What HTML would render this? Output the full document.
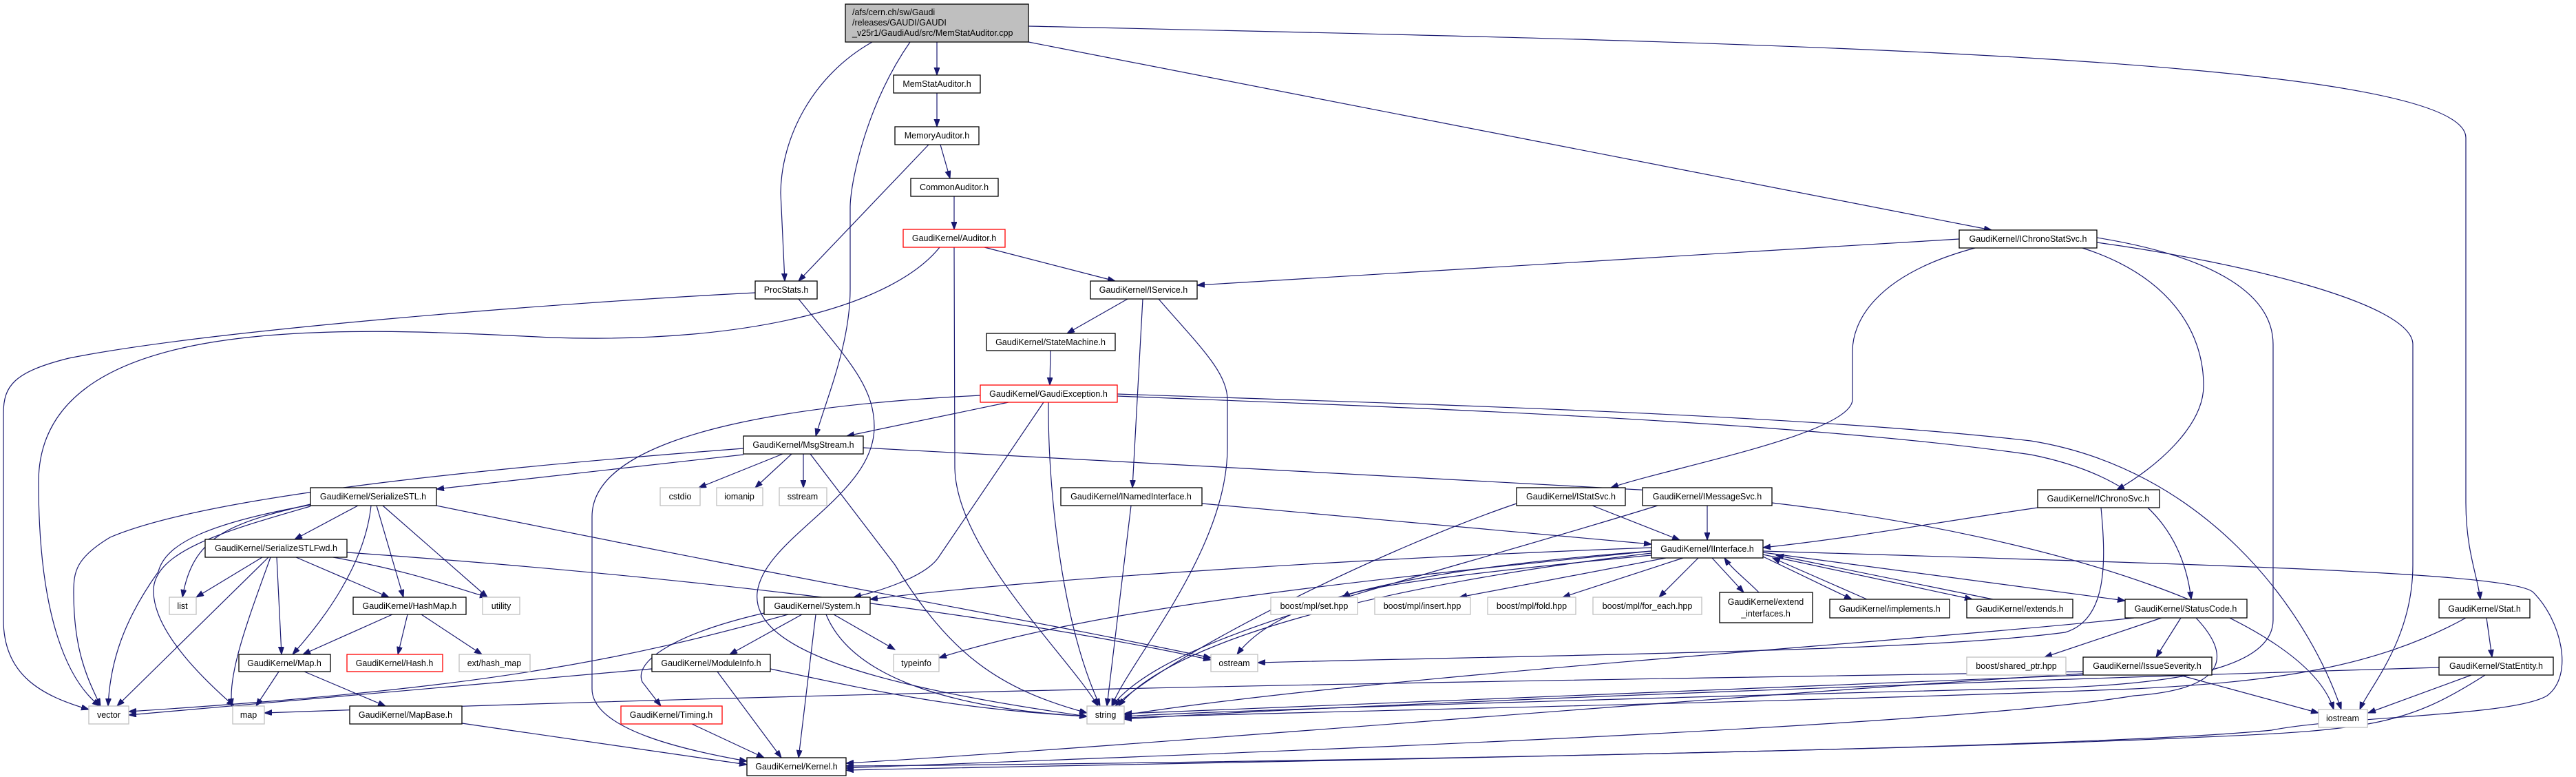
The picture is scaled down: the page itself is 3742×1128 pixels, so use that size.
<!DOCTYPE html>
<html><head><meta charset="utf-8"><style>
html,body{margin:0;padding:0;background:#fff}
svg{display:block}
text{font-family:"Liberation Sans",sans-serif;font-size:12.5px;fill:#000}
.e{fill:none;stroke:#191970;stroke-width:1.2}
.b{fill:#fff;stroke:#000;stroke-width:1.3}
.g{fill:#fff;stroke:#bfbfbf;stroke-width:1.3}
.r{fill:#fff;stroke:#ff0000;stroke-width:1.3}
</style></head><body>
<svg width="3742" height="1128" viewBox="0 0 3742 1128" xmlns="http://www.w3.org/2000/svg">
<defs><marker id="a" markerUnits="userSpaceOnUse" markerWidth="12" markerHeight="9" refX="11" refY="4" orient="auto"><path d="M0,0 L11,4 L0,8 z" fill="#191970" stroke="#191970"/></marker></defs>
<g class="e" marker-end="url(#a)">
<path d="M1361,61 L1361,109"/>
<path d="M1267,61 C1180,110 1135,200 1134,280 L1140,408"/>
<path d="M1322,61 C1260,150 1236,260 1235,300 L1235,420 C1235,500 1200,580 1185,633"/>
<path d="M1494,61 L2893,334"/>
<path d="M1494,38 C2500,60 3582,80 3582,200 L3582,730 C3582,800 3600,840 3603,870"/>
<path d="M1361,135 L1361,184"/>
<path d="M1366,210 L1380,259"/>
<path d="M1349,210 L1160,408"/>
<path d="M1386,285 L1386,333"/>
<path d="M1430,359 L1620,408"/>
<path d="M1365,359 C1300,440 1100,500 800,490 C500,475 56,450 56,700 C56,900 100,990 145,1025"/>
<path d="M1386,359 L1387,680 C1390,800 1550,950 1595,1025"/>
<path d="M1097,425 C800,440 300,480 100,520 C20,540 5,560 5,600 L5,900 C5,980 60,1010 129,1030"/>
<path d="M1160,434 C1230,520 1270,560 1270,620 C1270,720 1110,780 1100,860 C1090,950 1300,1000 1579,1040"/>
<path d="M1638,434 L1550,484"/>
<path d="M1660,434 L1645,708"/>
<path d="M1683,434 C1740,500 1783,540 1783,580 L1783,650 C1783,800 1640,960 1615,1025"/>
<path d="M1526,509 L1525,559"/>
<path d="M1465,584 L1230,633"/>
<path d="M1424,574 C1200,585 860,620 860,750 L860,1000 C860,1060 1000,1090 1085,1105"/>
<path d="M1516,584 L1362,811 C1340,840 1270,860 1240,867"/>
<path d="M1523,584 C1522,700 1540,900 1598,1025"/>
<path d="M1623,575 C2000,590 2600,610 2950,660 C3100,690 3170,760 3183,870"/>
<path d="M1623,572 C2000,585 2600,600 2950,640 C3200,680 3350,880 3401,1030"/>
<path d="M1080,660 L634,710"/>
<path d="M1137,659 L1015,708"/>
<path d="M1150,659 L1097,708"/>
<path d="M1167,659 L1167,708"/>
<path d="M1080,651 C700,680 300,720 160,780 C110,810 107,830 107,860 C107,950 130,990 146,1025"/>
<path d="M1177,659 L1300,820 C1380,950 1450,1000 1579,1035"/>
<path d="M1254,650 L2400,712"/>
<path d="M520,734 L428,783"/>
<path d="M451,732 C330,760 280,780 265,867"/>
<path d="M451,733 C300,760 240,790 230,830 C180,900 160,960 157,1025"/>
<path d="M451,735 C330,770 220,800 223,860 C225,920 300,990 340,1025"/>
<path d="M539,734 C530,820 470,900 425,950"/>
<path d="M547,734 L586,867"/>
<path d="M556,734 L708,867"/>
<path d="M634,734 C1200,850 1500,900 1759,955"/>
<path d="M381,809 L285,867"/>
<path d="M390,809 L170,1025"/>
<path d="M393,809 C360,900 330,980 337,1025"/>
<path d="M402,809 L409,950"/>
<path d="M430,809 L565,867"/>
<path d="M484,809 C600,830 650,850 708,867"/>
<path d="M504,802 C900,830 1400,880 1759,958"/>
<path d="M570,892 L440,950"/>
<path d="M592,892 L578,950"/>
<path d="M612,892 L700,950"/>
<path d="M405,975 L372,1025"/>
<path d="M442,975 L560,1025"/>
<path d="M671,1050 L1085,1110"/>
<path d="M1145,892 C900,960 700,1000 187,1033"/>
<path d="M1165,892 L1060,950"/>
<path d="M1110,890 C980,920 920,960 933,990 L960,1025"/>
<path d="M1211,892 L1300,943"/>
<path d="M1200,892 C1240,990 1400,1030 1579,1040"/>
<path d="M1185,892 L1160,1100"/>
<path d="M947,971 L187,1038"/>
<path d="M1119,971 C1300,1010 1400,1030 1579,1040"/>
<path d="M1042,975 L1135,1100"/>
<path d="M1005,1051 L1110,1100"/>
<path d="M1746,731 L2399,790"/>
<path d="M1643,734 L1608,1025"/>
<path d="M2313,734 L2440,784"/>
<path d="M2203,731 C2000,800 1700,950 1620,1025"/>
<path d="M2480,734 L2480,784"/>
<path d="M2408,734 C2000,860 1700,920 1615,1025"/>
<path d="M2574,730 C3000,780 3350,900 3390,1030"/>
<path d="M2960,737 C2800,760 2700,780 2561,795"/>
<path d="M3052,737 C3060,820 3060,900 3000,918 C2800,945 2300,950 1827,962"/>
<path d="M2846,347 L1739,414"/>
<path d="M2869,360 C2720,400 2691,470 2691,510 L2691,580 C2691,630 2420,680 2340,708"/>
<path d="M3025,360 C3150,400 3201,480 3201,560 C3201,620 3130,680 3075,711"/>
<path d="M3046,345 C3200,370 3302,420 3302,500 L3302,900 C3302,960 3200,990 3000,998 C2500,1010 1800,1030 1633,1040"/>
<path d="M3046,352 C3250,380 3505,440 3505,500 L3505,820 C3505,930 3440,1000 3428,1030"/>
<path d="M2399,795 C2000,810 1500,840 1264,870"/>
<path d="M2399,806 C2150,830 1980,850 1950,867"/>
<path d="M2420,810 L2120,867"/>
<path d="M2445,810 L2270,867"/>
<path d="M2467,810 L2410,867"/>
<path d="M2487,810 L2533,860"/>
<path d="M2555,860 C2535,840 2515,825 2505,810"/>
<path d="M2561,808 L2690,870"/>
<path d="M2712,870 L2575,810"/>
<path d="M2561,805 L2865,870"/>
<path d="M2895,870 L2580,806"/>
<path d="M2561,802 L3087,872"/>
<path d="M2399,800 C2000,840 1600,880 1364,955"/>
<path d="M2399,800 C2000,830 1850,880 1797,950"/>
<path d="M2399,803 C2000,850 1700,930 1625,1025"/>
<path d="M2561,800 C3200,820 3650,830 3680,860 C3720,900 3740,980 3700,1010 C3650,1040 3400,1040 3300,1060 C3000,1090 1600,1110 1229,1112"/>
<path d="M3140,897 L2970,954"/>
<path d="M3168,897 L3132,954"/>
<path d="M3100,897 C2800,930 2000,980 1633,1038"/>
<path d="M3190,897 C3240,950 3240,1000 3100,1010 C2800,1060 1600,1100 1229,1115"/>
<path d="M3026,980 L1633,1036"/>
<path d="M3026,978 C2500,1010 1700,1080 1229,1108"/>
<path d="M3166,980 L3368,1035"/>
<path d="M3026,975 C2500,985 1500,995 384,1035"/>
<path d="M3582,897 C3450,970 3300,990 3100,1000 C2600,1020 1800,1035 1633,1042"/>
<path d="M3612,897 L3620,954"/>
<path d="M3590,980 L3440,1035"/>
<path d="M3543,969 C3000,985 2000,1020 1633,1044"/>
<path d="M3610,980 C3500,1050 3450,1060 3200,1070 C2800,1090 1600,1110 1229,1118"/>
</g>
<!-- nodes -->
<rect x="1228" y="6" width="266" height="55" fill="#bfbfbf" stroke="#000" stroke-width="1.3"/>
<text x="1238" y="22">/afs/cern.ch/sw/Gaudi</text>
<text x="1238" y="37">/releases/GAUDI/GAUDI</text>
<text x="1238" y="52">_v25r1/GaudiAud/src/MemStatAuditor.cpp</text>
<g text-anchor="middle">
<rect class="b" x="1298" y="109" width="126" height="26"/><text x="1361" y="126">MemStatAuditor.h</text>
<rect class="b" x="1300" y="184" width="122" height="26"/><text x="1361" y="201">MemoryAuditor.h</text>
<rect class="b" x="1323" y="259" width="127" height="26"/><text x="1386" y="276">CommonAuditor.h</text>
<rect class="r" x="1312" y="333" width="148" height="26"/><text x="1386" y="350">GaudiKernel/Auditor.h</text>
<rect class="b" x="1097" y="408" width="90" height="26"/><text x="1142" y="425">ProcStats.h</text>
<rect class="b" x="1584" y="408" width="155" height="26"/><text x="1661" y="425">GaudiKernel/IService.h</text>
<rect class="b" x="2846" y="334" width="200" height="26"/><text x="2946" y="351">GaudiKernel/IChronoStatSvc.h</text>
<rect class="b" x="1433" y="484" width="187" height="25"/><text x="1526" y="501">GaudiKernel/StateMachine.h</text>
<rect class="r" x="1424" y="559" width="199" height="25"/><text x="1523" y="576">GaudiKernel/GaudiException.h</text>
<rect class="b" x="1080" y="633" width="174" height="26"/><text x="1167" y="650">GaudiKernel/MsgStream.h</text>
<rect class="g" x="959" y="708" width="58" height="26"/><text x="988" y="725">cstdio</text>
<rect class="g" x="1041" y="708" width="67" height="26"/><text x="1074" y="725">iomanip</text>
<rect class="g" x="1132" y="708" width="69" height="26"/><text x="1166" y="725">sstream</text>
<rect class="b" x="451" y="708" width="183" height="26"/><text x="542" y="725">GaudiKernel/SerializeSTL.h</text>
<rect class="b" x="1541" y="708" width="205" height="26"/><text x="1643" y="725">GaudiKernel/INamedInterface.h</text>
<rect class="b" x="2203" y="708" width="158" height="26"/><text x="2282" y="725">GaudiKernel/IStatSvc.h</text>
<rect class="b" x="2386" y="708" width="188" height="26"/><text x="2480" y="725">GaudiKernel/IMessageSvc.h</text>
<rect class="b" x="2960" y="711" width="177" height="26"/><text x="3048" y="728">GaudiKernel/IChronoSvc.h</text>
<rect class="b" x="298" y="783" width="206" height="26"/><text x="401" y="800">GaudiKernel/SerializeSTLFwd.h</text>
<rect class="b" x="2399" y="784" width="162" height="26"/><text x="2480" y="801">GaudiKernel/IInterface.h</text>
<rect class="g" x="246" y="867" width="39" height="25"/><text x="265" y="884">list</text>
<rect class="b" x="513" y="867" width="164" height="25"/><text x="595" y="884">GaudiKernel/HashMap.h</text>
<rect class="g" x="701" y="867" width="54" height="25"/><text x="728" y="884">utility</text>
<rect class="b" x="1110" y="867" width="154" height="25"/><text x="1187" y="884">GaudiKernel/System.h</text>
<rect class="g" x="1846" y="867" width="126" height="25"/><text x="1909" y="884">boost/mpl/set.hpp</text>
<rect class="g" x="1997" y="867" width="139" height="25"/><text x="2066" y="884">boost/mpl/insert.hpp</text>
<rect class="g" x="2161" y="867" width="128" height="25"/><text x="2225" y="884">boost/mpl/fold.hpp</text>
<rect class="g" x="2314" y="867" width="158" height="25"/><text x="2393" y="884">boost/mpl/for_each.hpp</text>
<rect class="b" x="2498" y="860" width="135" height="44"/><text x="2565" y="878">GaudiKernel/extend</text><text x="2565" y="895">_interfaces.h</text>
<rect class="b" x="2658" y="870" width="174" height="27"/><text x="2745" y="888">GaudiKernel/implements.h</text>
<rect class="b" x="2857" y="870" width="154" height="27"/><text x="2934" y="888">GaudiKernel/extends.h</text>
<rect class="b" x="3087" y="870" width="177" height="27"/><text x="3175" y="888">GaudiKernel/StatusCode.h</text>
<rect class="b" x="3543" y="870" width="132" height="27"/><text x="3609" y="888">GaudiKernel/Stat.h</text>
<rect class="b" x="347" y="950" width="133" height="25"/><text x="413" y="967">GaudiKernel/Map.h</text>
<rect class="r" x="504" y="950" width="139" height="25"/><text x="573" y="967">GaudiKernel/Hash.h</text>
<rect class="g" x="667" y="950" width="103" height="25"/><text x="718" y="967">ext/hash_map</text>
<rect class="b" x="947" y="950" width="172" height="25"/><text x="1033" y="967">GaudiKernel/ModuleInfo.h</text>
<rect class="g" x="1298" y="950" width="66" height="25"/><text x="1331" y="967">typeinfo</text>
<rect class="g" x="1759" y="950" width="68" height="25"/><text x="1793" y="967">ostream</text>
<rect class="g" x="2857" y="954" width="144" height="26"/><text x="2929" y="971">boost/shared_ptr.hpp</text>
<rect class="b" x="3026" y="954" width="187" height="26"/><text x="3119" y="971">GaudiKernel/IssueSeverity.h</text>
<rect class="b" x="3543" y="954" width="166" height="26"/><text x="3626" y="971">GaudiKernel/StatEntity.h</text>
<rect class="g" x="129" y="1025" width="58" height="26"/><text x="158" y="1042">vector</text>
<rect class="g" x="338" y="1025" width="46" height="26"/><text x="361" y="1042">map</text>
<rect class="b" x="508" y="1025" width="163" height="26"/><text x="589" y="1042">GaudiKernel/MapBase.h</text>
<rect class="r" x="902" y="1025" width="147" height="26"/><text x="975" y="1042">GaudiKernel/Timing.h</text>
<rect class="g" x="1579" y="1025" width="54" height="26"/><text x="1606" y="1042">string</text>
<rect class="g" x="3368" y="1030" width="71" height="26"/><text x="3403" y="1047">iostream</text>
<rect class="b" x="1085" y="1100" width="144" height="26"/><text x="1157" y="1117">GaudiKernel/Kernel.h</text>
</g>
</svg>
</body></html>
